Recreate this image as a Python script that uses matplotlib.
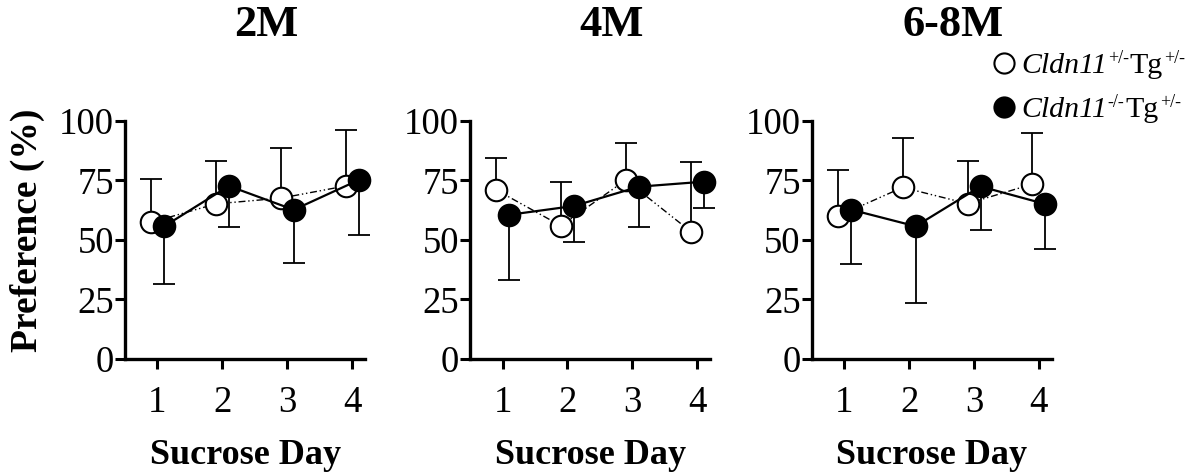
import matplotlib
matplotlib.use("Agg")
import matplotlib.pyplot as plt
from matplotlib.lines import Line2D
import numpy as np

plt.rcParams['font.family'] = ['Liberation Serif', 'DejaVu Serif']

days = [1, 2, 3, 4]
ages = ["2M", "4M", "6-8M"]

# Cldn11+/-Tg+/- (open circles), upper error only
het_mean = [[57.3, 65.1, 67.5, 72.6],
            [71.0, 55.9, 75.1, 53.5],
            [59.9, 72.0, 65.2, 73.4]]
het_err = [[18.1, 18.0, 21.2, 23.3],
           [13.5, 18.5, 15.5, 29.0],
           [19.5, 20.6, 17.7, 21.3]]

# Cldn11-/-Tg+/- (filled circles), lower error only
ko_mean = [[55.6, 72.6, 62.6, 75.1],
           [60.5, 64.2, 72.3, 74.4],
           [62.7, 55.7, 72.4, 65.0]]
ko_err = [[24.0, 17.2, 22.5, 23.0],
          [27.4, 14.9, 17.1, 11.1],
          [23.0, 32.3, 18.4, 18.8]]

# legend rows: (marker face, genotype superscript)
legend_rows = [("white", "+/-"), ("black", "-/-")]

W, H = 1204, 474
fig = plt.figure(figsize=(W / 100, H / 100), dpi=100)
lefts = [0.1038, 0.3904, 0.6742]
axes = []
for i, left in enumerate(lefts):
    ax = fig.add_axes([left, 0.2426, 0.1995, 0.5028])
    axes.append(ax)
    x = np.array(days, dtype=float)
    zero = [0, 0, 0, 0]

    # error bars first so the circles sit on top
    ax.errorbar(x - 0.1, het_mean[i], yerr=[zero, het_err[i]], fmt='none',
                ecolor='black', elinewidth=1.3, capsize=8, capthick=1.3, zorder=2, clip_on=False)
    ax.errorbar(x + 0.1, ko_mean[i], yerr=[ko_err[i], zero], fmt='none',
                ecolor='black', elinewidth=1.3, capsize=8, capthick=1.3, zorder=2, clip_on=False)

    ax.plot(x - 0.1, het_mean[i], color='black', lw=1.0, ls=(0, (5, 2, 1, 2, 1, 2)),
            marker='o', ms=15.5, mfc='white', mec='black', mew=1.5, zorder=3, clip_on=False)
    ax.plot(x + 0.1, ko_mean[i], color='black', lw=1.6, ls='-',
            marker='o', ms=15.5, mfc='black', mec='black', mew=1.5, zorder=4, clip_on=False)

    ax.set_xlim(0.5, 4.2)
    ax.set_ylim(0, 100)
    ax.set_xticks(days)
    ax.set_yticks([0, 25, 50, 75, 100])
    ax.spines['top'].set_visible(False)
    ax.spines['right'].set_visible(False)
    for s in ('left', 'bottom'):
        ax.spines[s].set_linewidth(2.4)
    ax.tick_params(axis='both', width=2.2, length=7, labelsize=26.5, direction='out')
    ax.tick_params(axis='y', pad=1)
    ax.tick_params(axis='x', pad=12)
    ax.set_xlabel("Sucrose Day", fontsize=26, fontweight='bold', labelpad=14)
    ax.text(0.59, 1.40, ages[i], transform=ax.transAxes, ha='center', va='center',
            fontsize=32, fontweight='bold')

axes[0].set_ylabel("Preference (%)", fontsize=27, fontweight='bold')
axes[0].yaxis.set_label_coords(-0.335, 0.54)

# legend built from pieces so the superscripts read like the figure text
renderer = fig.canvas.get_renderer()


def put(xpx, ypx, s, **kw):
    t = fig.text(xpx / W, 1 - ypx / H, s, ha='left', va='baseline', **kw)
    bb = t.get_window_extent(renderer)
    return bb.x1


for row, (face, sup) in enumerate(legend_rows):
    base = 73 + row * 44
    fig.add_artist(Line2D([1004 / W], [1 - (base - 10) / H], ls='none', marker='o', ms=14.5,
                          mfc=face, mec='black', mew=1.5, transform=fig.transFigure))
    xr = put(1021, base, "Cldn11", fontsize=21.5, style='italic')
    xr = put(xr + 1, base - 10, sup, fontsize=13)
    xr = put(xr + 1, base, "Tg", fontsize=21.5)
    put(xr + 1, base - 10, "+/-", fontsize=13)

fig.savefig("out.png", dpi=100)
